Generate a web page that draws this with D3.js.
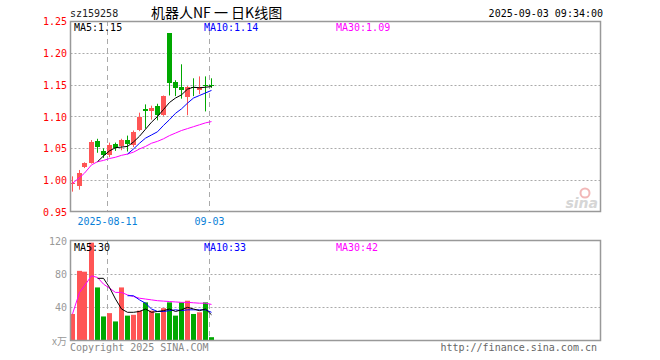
<!DOCTYPE html>
<html>
<head>
<meta charset="utf-8">
<script src="https://cdn.jsdelivr.net/npm/d3@7"></script>
<style>
  body { margin: 0; background: #fff; }
  text { font-family: "DejaVu Sans Mono", monospace; font-size: 10px; }
</style>
</head>
<body>
<div id="chart"></div>
<script>
// daily candles, 2025-08-01 .. 2025-09-03
var dates = ["08-01", "08-04", "08-05", "08-06", "08-07", "08-08", "2025-08-11", "08-12", "08-13", "08-14",
    "08-15", "08-18", "08-19", "08-20", "08-21", "08-22", "08-25", "08-26", "08-27", "08-28",
    "08-29", "09-01", "09-02", "09-03"];
var opens = [0.993, 0.991, 1.020, 1.027, 1.061, 1.046, 1.039, 1.057, 1.053, 1.063, 1.054, 1.079,
    1.111, 1.110, 1.116, 1.102, 1.231, 1.154, 1.146, 1.132, 1.147, 1.141, 1.150, 1.150];
var highs = [1.006, 1.016, 1.028, 1.063, 1.065, 1.050, 1.059, 1.059, 1.065, 1.070, 1.078, 1.106,
    1.119, 1.117, 1.120, 1.133, 1.231, 1.157, 1.182, 1.148, 1.160, 1.163, 1.163, 1.160];
var lows = [0.982, 0.985, 1.019, 1.026, 1.043, 1.035, 1.036, 1.046, 1.047, 1.045, 1.052, 1.077,
    1.081, 1.095, 1.094, 1.101, 1.133, 1.132, 1.128, 1.102, 1.132, 1.135, 1.108, 1.145];
var closes = [0.995, 1.012, 1.027, 1.060, 1.051, 1.039, 1.055, 1.050, 1.063, 1.057, 1.075, 1.099,
    1.108, 1.114, 1.102, 1.132, 1.152, 1.144, 1.141, 1.147, 1.146, 1.146, 1.149, 1.149];
var volumes = [32, 84, 83, 118, 64, 29, 33, 23, 64, 30, 31, 36, 46, 36, 33, 39, 46, 30, 46, 48,
    32, 34, 46, 4];

// moving average lines as drawn (index where each line starts)
var ma5Start = 4;
var ma5 = [1.029, 1.038, 1.046, 1.051, 1.052, 1.053, 1.060, 1.069, 1.080, 1.091, 1.100, 1.111,
    1.122, 1.129, 1.134, 1.143, 1.146, 1.145, 1.146, 1.147];
var ma10Start = 9;
var ma10 = [1.041, 1.049, 1.058, 1.066, 1.071, 1.076, 1.086, 1.095, 1.105, 1.112, 1.121, 1.129,
    1.133, 1.137, 1.141];
var ma30Start = 0;
var ma30 = [0.995, 1.004, 1.011, 1.024, 1.029, 1.031, 1.034, 1.036, 1.039, 1.041, 1.044, 1.049,
    1.053, 1.058, 1.061, 1.065, 1.070, 1.074, 1.078, 1.081, 1.084, 1.087, 1.090, 1.092];
var volMa5 = [75, 75, 64, 50, 38, 34, 34, 35, 38, 34, 35, 36, 38, 35, 37, 40, 38, 36, 38, 31];
var volMa10 = [54, 54, 49, 45, 38, 35, 35, 36, 37, 36, 37, 37, 37, 37, 34];
var volMa30 = [32, 58, 66, 78, 76, 68, 63, 58, 58, 55, 53, 51, 50, 49, 48, 47.5, 47, 46.5, 46, 46,
    45.5, 45, 45, 43.5];

var priceTicks = [1.25, 1.20, 1.15, 1.10, 1.05, 1.00, 0.95];
var volTicks = [120, 80, 40];
var dateTicks = ["2025-08-11", "09-03"];

var svgWidth = 660;
var svgHeight = 360;

var left = 70.5, right = 600.5;

var svg = d3.select("#chart")
    .append("svg")
    .attr("width", svgWidth)
    .attr("height", svgHeight);

// scales
var x = d3.scaleLinear().domain([-0.5, 87.5]).range([69.5, 597.5]);
var y = d3.scaleLinear().domain([0.95, 1.25]).range([212, 21]);
var yVol = d3.scaleLinear().domain([0, 120]).range([340.5, 241]);

var red = "#ff5555", green = "#00a800";
function col(i) { return closes[i] >= opens[i] && !(closes[i] === opens[i] && i > 20) ? red : green; }
function cx(i) { return Math.round(x(i)); }

// header
svg.append("text").attr("x", 70).attr("y", 17).attr("fill", "#222").text("sz159258");
svg.append("text").attr("x", 151).attr("y", 18)
    .style("font-family", "'Noto Sans CJK SC', sans-serif").style("font-size", "14px")
    .attr("fill", "#000").text("机器人NF 一 日K线图");
svg.append("text").attr("x", 603).attr("y", 17).attr("text-anchor", "end").attr("fill", "#000")
    .text("2025-09-03 09:34:00");

// horizontal grid - price
svg.selectAll(".pgrid")
    .data(priceTicks.slice(1, 6))
    .enter()
    .append("line")
    .attr("x1", left).attr("x2", right)
    .attr("y1", d => Math.round(y(d)) + 0.5).attr("y2", d => Math.round(y(d)) + 0.5)
    .attr("stroke", "#aaa").attr("stroke-dasharray", "2,2");

svg.selectAll(".vgrid")
    .data([80, 40])
    .enter()
    .append("line")
    .attr("x1", left).attr("x2", right)
    .attr("y1", d => Math.round(yVol(d)) + 0.5).attr("y2", d => Math.round(yVol(d)) + 0.5)
    .attr("stroke", "#aaa").attr("stroke-dasharray", "2,2");

// vertical dashed date lines
dateTicks.forEach(function (t) {
    var i = dates.indexOf(t === "2025-08-11" ? t : t);
    var px = cx(i) - 2 + 0.5;
    [[21, 212], [241, 340]].forEach(function (r) {
        svg.append("line")
            .attr("x1", px).attr("x2", px).attr("y1", r[0]).attr("y2", r[1])
            .attr("stroke", "#aaa").attr("stroke-dasharray", "5,4");
    });
    svg.append("text").attr("x", px).attr("y", 225).attr("text-anchor", "middle")
        .attr("fill", "#0a7fd8").text(t);
});

// price axis labels
svg.selectAll(".plabel")
    .data(priceTicks)
    .enter()
    .append("text")
    .attr("x", 67).attr("y", d => y(d) + 4)
    .attr("text-anchor", "end").attr("fill", "#f00")
    .text(d => d.toFixed(2));

// volume axis labels
svg.selectAll(".vlabel")
    .data(volTicks)
    .enter()
    .append("text")
    .attr("x", 67).attr("y", d => yVol(d) + 4)
    .attr("text-anchor", "end").attr("fill", "#999")
    .text(d => d);
svg.append("text").attr("x", 67).attr("y", 345).attr("text-anchor", "end").attr("fill", "#999")
    .style("font-family", "'Noto Sans CJK SC', sans-serif").text("x万");

// sina watermark
svg.append("circle").attr("cx", 585).attr("cy", 193).attr("r", 4.5)
    .attr("fill", "none").attr("stroke", "#f2b8b8").attr("stroke-width", 2);
svg.append("text").attr("x", 598).attr("y", 208).attr("text-anchor", "end")
    .style("font-family", "'DejaVu Sans', sans-serif").style("font-size", "14px")
    .style("font-style", "italic").style("font-weight", "bold")
    .attr("fill", "#d6d6d6").text("sina");

// candles
var candles = svg.selectAll(".candle")
    .data(dates.map((d, i) => i))
    .enter()
    .append("g");

candles.append("line")
    .attr("x1", i => cx(i) + 0.5).attr("x2", i => cx(i) + 0.5)
    .attr("y1", i => y(highs[i])).attr("y2", i => y(lows[i]))
    .attr("stroke", col);

candles.append("rect")
    .attr("x", i => cx(i) - 2)
    .attr("width", 5)
    .attr("y", i => Math.round(y(Math.max(opens[i], closes[i]))))
    .attr("height", i => Math.max(1, Math.round(Math.abs(y(opens[i]) - y(closes[i])))))
    .attr("fill", col);

// volume bars
svg.selectAll(".vol")
    .data(volumes)
    .enter()
    .append("rect")
    .attr("x", (d, i) => cx(i) - 2)
    .attr("width", 5)
    .attr("y", d => yVol(d))
    .attr("height", d => yVol(0) - yVol(d))
    .attr("fill", (d, i) => col(i));

// moving average lines
function maLine(values, start, scale, color) {
    var line = d3.line()
        .x((d, k) => cx(k + start) + 0.5)
        .y(d => scale(d));
    svg.append("path")
        .attr("d", line(values))
        .attr("fill", "none")
        .attr("stroke", color)
        .attr("stroke-width", 1);
}
maLine(ma30, ma30Start, y, "#ff00ff");
maLine(ma10, ma10Start, y, "#0000ff");
maLine(ma5, ma5Start, y, "#000");
maLine(volMa30, 0, yVol, "#ff00ff");
maLine(volMa10, 9, yVol, "#0000ff");
maLine(volMa5, 4, yVol, "#000");

// frames
svg.append("rect").attr("x", left).attr("y", 21.5).attr("width", right - left).attr("height", 190)
    .attr("fill", "none").attr("stroke", "#999").attr("stroke-width", 1.5);
svg.append("rect").attr("x", left).attr("y", 240.5).attr("width", right - left).attr("height", 100)
    .attr("fill", "none").attr("stroke", "#999").attr("stroke-width", 1.5);

// MA legends
var legends = [
    ["MA5:1.15", 74, 31, "#000"], ["MA10:1.14", 204, 31, "#0000ff"], ["MA30:1.09", 336, 31, "#ff00ff"],
    ["MA5:30", 74, 251, "#000"], ["MA10:33", 204, 251, "#0000ff"], ["MA30:42", 336, 251, "#ff00ff"]
];
legends.forEach(function (l) {
    svg.append("text").attr("x", l[1]).attr("y", l[2]).attr("fill", l[3]).text(l[0]);
});

// footer
svg.append("text").attr("x", 70).attr("y", 351).attr("fill", "#888").text("Copyright 2025 SINA.COM");
svg.append("text").attr("x", 597).attr("y", 351).attr("text-anchor", "end").attr("fill", "#666")
    .text("http://finance.sina.com.cn");
</script>
</body>
</html>
